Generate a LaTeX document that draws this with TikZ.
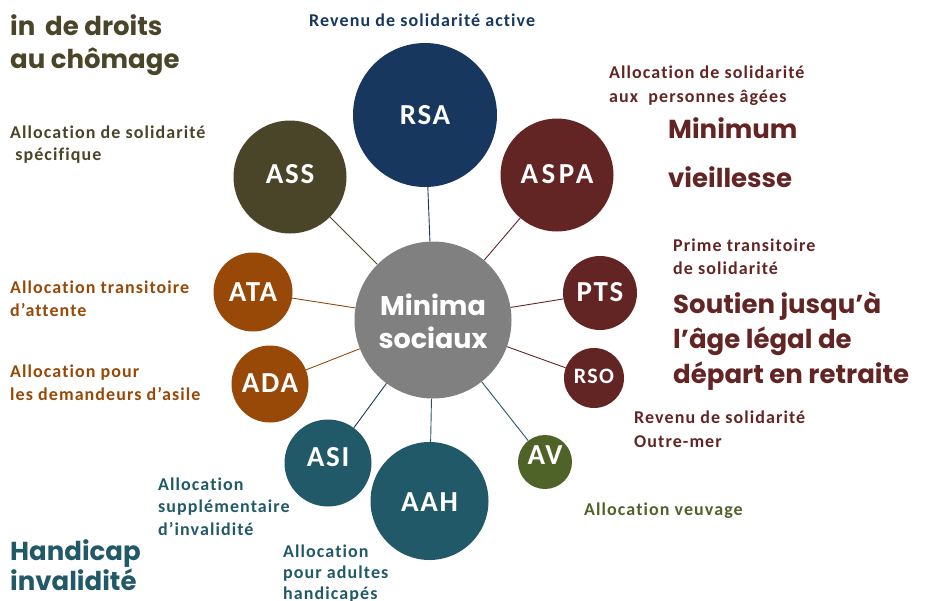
\documentclass[tikz,border=0pt]{standalone}
\usepackage{fontspec}
\setmainfont{Carlito}[LetterSpace=6,Ligatures=NoCommon]
\newfontfamily\gothic{Poppins}
\definecolor{cblue}{HTML}{17375E}
\definecolor{colive}{HTML}{4A4529}
\definecolor{cred}{HTML}{632523}
\definecolor{corange}{HTML}{984807}
\definecolor{cteal}{HTML}{215968}
\definecolor{cgreen}{HTML}{4F6228}
\definecolor{cgray}{HTML}{808080}
\begin{document}
\begin{tikzpicture}[x=1pt,y=-1pt,
  bub/.style={circle,fill=#1,minimum size=0pt,inner sep=0pt},
  blab/.style={text=white,inner sep=0pt,font=\bfseries\fontsize{29}{29}\selectfont},
  lab/.style={anchor=base west,inner sep=0pt,text=#1,font=\bfseries\fontsize{18}{23}\selectfont,align=left},
  big/.style={anchor=base west,inner sep=0pt,text=#1,font=\gothic\bfseries\fontsize{26}{35}\selectfont,align=left},
  link/.style={draw=#1,line width=0.9pt}]
\useasboundingbox (0,0) rectangle (926,600);
\node[bub=cblue,minimum size=144pt] (rsa) at (425,115) {};
\node[bub=colive,minimum size=113pt] (ass) at (290,177) {};
\node[bub=cred,minimum size=113pt] (aspa) at (557,175) {};
\node[bub=corange,minimum size=79pt] (ata) at (253,292) {};
\node[bub=cred,minimum size=74pt] (pts) at (600,293) {};
\node[bub=corange,minimum size=77pt] (ada) at (270,384) {};
\node[bub=cred,minimum size=60pt] (rso) at (594,378) {};
\node[bub=cteal,minimum size=87pt] (asi) at (328,463) {};
\node[bub=cteal,minimum size=118pt] (aah) at (429.5,501) {};
\node[bub=cgreen,minimum size=54pt] (av) at (545,462) {};
\node[bub=cgray,minimum size=157pt] (mc) at (433,320) {};
\draw[link=cblue] (mc) -- (rsa);
\draw[link=colive] (mc) -- (ass);
\draw[link=cred] (mc) -- (aspa);
\draw[link=corange] (mc) -- (ata);
\draw[link=cred] (mc) -- (pts);
\draw[link=corange] (mc) -- (ada);
\draw[link=cred] (mc) -- (rso);
\draw[link=cblue] (mc) -- (asi);
\draw[link=cteal] (mc) -- (aah);
\draw[link=cteal] (mc) -- (av);
% labels inside bubbles
\node[blab] (trsa) at (425,115) {RSA};
\node[blab] (tass) at (290,174) {ASS};
\node[blab,font=\bfseries\fontsize{29}{29}\selectfont\addfontfeature{LetterSpace=12}] (taspa) at (557,174) {ASPA};
\node[blab] (tata) at (253,292) {ATA};
\node[blab] (tpts) at (600,292) {PTS};
\node[blab] (tada) at (270,383) {ADA};
\node[blab,font=\bfseries\fontsize{22}{22}\selectfont] (trso) at (594,376) {RSO};
\node[blab] (tasi) at (328,457) {ASI};
\node[blab] (taah) at (429.5,502) {AAH};
\node[blab] (tav) at (545,455) {AV};
\node[text=white,inner sep=0pt,font=\gothic\bfseries\fontsize{27}{33}\selectfont,align=center] (tmc) at (433,321) {Minima\\sociaux};
% descriptions (anchor = baseline of last line)
\node[lab=cblue] (d1) at (309,26) {Revenu de solidarité active};
\node[big=colive,font=\gothic\bfseries\fontsize{26}{33}\selectfont] (d2) at (10,68) {in\, de droits\\au chômage};
\node[lab=colive,font=\bfseries\fontsize{18}{22}\selectfont] (d3) at (10,160) {Allocation de solidarité\\\ spécifique};
\node[lab=cred,font=\bfseries\fontsize{18}{23.5}\selectfont] (d4) at (609,102) {Allocation de solidarité\\aux\ \ personnes âgées};
\node[big=cred,font=\gothic\bfseries\fontsize{26}{49}\selectfont] (d5) at (668,187) {Minimum\\vieillesse};
\node[lab=cred] (d6) at (673,274) {Prime transitoire\\de solidarité};
\node[big=cred] (d7) at (673,383) {Soutien jusqu’à\\l’âge légal de\\départ en retraite};
\node[lab=cred,font=\bfseries\fontsize{18}{24}\selectfont] (d8) at (634,447) {Revenu de solidarité\\Outre-mer};
\node[lab=corange] (d9) at (10,316) {Allocation transitoire\\d’attente};
\node[lab=corange] (d10) at (10,400) {Allocation pour\\les demandeurs d’asile};
\node[lab=cteal,font=\bfseries\fontsize{18}{22.5}\selectfont] (d11) at (158,535) {Allocation\\supplémentaire\\d’invalidité};
\node[lab=cteal,font=\bfseries\fontsize{18}{21}\selectfont] (d12) at (283,599) {Allocation\\pour adultes\\handicapés};
\node[lab=cgreen] (d13) at (584,515) {Allocation veuvage};
\node[big=cteal,font=\gothic\bfseries\fontsize{26}{28}\selectfont] (d14) at (10,590) {Handicap\\invalidité};
\end{tikzpicture}
\end{document}
